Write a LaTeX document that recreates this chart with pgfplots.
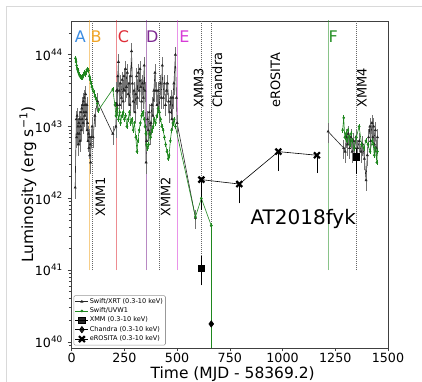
\documentclass[border=0pt]{standalone}
\usepackage{fontspec}
\setmainfont{DejaVu Sans}
\usepackage{pgfplots}
\pgfplotsset{compat=1.18}

\definecolor{cA}{RGB}{60,140,225}
\definecolor{cB}{RGB}{240,165,40}
\definecolor{cC}{RGB}{222,45,55}
\definecolor{cD}{RGB}{125,40,145}
\definecolor{cE}{RGB}{215,60,215}
\definecolor{cF}{RGB}{40,145,40}
\definecolor{uvw}{RGB}{30,135,30}

\pgfdeclareplotmark{Xfill}{%
  \pgfsetlinewidth{0.75\pgfplotmarksize}\pgfsetbuttcap
  \pgfpathmoveto{\pgfqpoint{-\pgfplotmarksize}{-\pgfplotmarksize}}%
  \pgfpathlineto{\pgfqpoint{\pgfplotmarksize}{\pgfplotmarksize}}%
  \pgfpathmoveto{\pgfqpoint{-\pgfplotmarksize}{\pgfplotmarksize}}%
  \pgfpathlineto{\pgfqpoint{\pgfplotmarksize}{-\pgfplotmarksize}}%
  \pgfusepathqstroke}

\pgfplotsset{
  xrt/.style={black!85, line width=0.45pt, mark=triangle*, mark size=0.9pt,
    error bars/y dir=both, error bars/y fixed relative=0.3, error bars/error mark=none,
    error bars/error bar style={black!55, line width=0.35pt}},
  uvwst/.style={uvw, line width=0.45pt, mark=*, mark size=0.75pt,
    error bars/y dir=both, error bars/y fixed relative=0.08, error bars/error mark=none,
    error bars/error bar style={uvw, line width=0.35pt}},
  vl/.style={line width=0.7pt, opacity=0.55, forget plot},
  vd/.style={black!60, densely dotted, line width=0.5pt, forget plot},
}

\begin{document}
\begin{tikzpicture}
\useasboundingbox (0,0) rectangle (316.5pt,286.5pt);
\draw[black!15, line width=0.6pt] (4.5pt,0) -- (4.5pt,282pt) -- (316.5pt,282pt);
\begin{axis}[
  at={(53.25pt,25.5pt)}, anchor=south west,
  scale only axis, width=237.75pt, height=245.25pt,
  ymode=log, xmin=-3, xmax=1500, ymin=8.24e39, ymax=2.95e44,
  xtick={0,250,500,750,1000,1250,1500},
  ytick={1e40,1e41,1e42,1e43,1e44},
  yticklabels={10\textsuperscript{40},10\textsuperscript{41},10\textsuperscript{42},10\textsuperscript{43},10\textsuperscript{44}},
  minor ytick={9e39,2e40,3e40,4e40,5e40,6e40,7e40,8e40,9e40,2e41,3e41,4e41,5e41,6e41,7e41,8e41,9e41,2e42,3e42,4e42,5e42,6e42,7e42,8e42,9e42,2e43,3e43,4e43,5e43,6e43,7e43,8e43,9e43,2e44},
  tick align=outside, tick pos=left,
  major tick length=2.5pt, minor tick length=1.5pt,
  axis line style={black!75},
  every tick/.style={black!75},
  /pgf/number format/assume math mode=true,
  /pgf/number format/1000 sep={},
  tick label style={font=\fontsize{9.5}{10}\selectfont},
  xticklabel style={inner sep=1pt},
  xlabel={Time (MJD - 58369.2)},
  ylabel={Luminosity (erg s\textsuperscript{−1})},
  label style={font=\fontsize{11.6}{12.5}\selectfont},
  xlabel style={at={(axis description cs:0.51,-0.0933)}, anchor=base, inner sep=0pt},
  ylabel style={at={(axis description cs:-0.136,0.5)}, anchor=center},
  unbounded coords=jump,
  legend style={at={(0.008,0.008)}, anchor=south west, font=\fontsize{4.9}{5.2}\selectfont,
    draw=black!40, rounded corners=1pt, inner sep=1pt, row sep=0pt,
    nodes={inner sep=0.9pt},
    fill=white, fill opacity=0.85, text opacity=1, draw opacity=1},
  legend cell align=left,
  legend image code/.code={\draw[mark repeat=2,mark phase=2,#1] plot coordinates {(0cm,0cm) (0.17cm,0cm) (0.34cm,0cm)};},
]
% vertical marker lines
\addplot[vl, cB] coordinates {(85,1e41) (85,1e45)};
\addplot[vl, cC] coordinates {(211,1e41) (211,1e45)};
\addplot[vl, cD] coordinates {(355,1e41) (355,1e45)};
\addplot[vl, cE] coordinates {(503,1e41) (503,1e45)};
\addplot[vl, cF] coordinates {(1216,1e41) (1216,1e45)};
\addplot[vd] coordinates {(96,1e41) (96,1e45)};
\addplot[vd] coordinates {(418,1e41) (418,1e45)};
\addplot[vd] coordinates {(615,1e41) (615,1e45)};
\addplot[vd] coordinates {(662,1e41) (662,1e45)};
\addplot[vd] coordinates {(1352,1e41) (1352,1e45)};

% Swift/XRT
\addplot[xrt] coordinates {
(17,1.41e42) (22,1.26e43) (24,7.08e42) (26,1.41e43) (28,7.94e42) (30,1.00e43) (32,5.62e42) (34,1.12e43)
(36,7.94e42) (38,1.26e43) (40,6.31e42) (42,1.00e43) (44,1.58e43) (46,8.91e42) (48,1.78e43) (50,1.26e43)
(52,2.00e43) (54,1.12e43) (56,2.24e43) (58,1.58e43) (60,2.51e43) (62,1.41e43) (64,2.00e43) (66,2.82e43)
(68,1.58e43) (70,1.26e43) (72,2.00e43) (74,8.91e42) (76,1.12e43) (78,6.31e42) (80,7.94e42) (82,5.01e42)
(84,7.08e42) (86,3.98e42) (88,5.62e42) (90,3.16e42) (93,7.08e42) (97,1.00e43) (102,7.08e42) (110,1.41e43)
(123,2.24e43) (195,7.94e42) (210,1.00e43) (213,3.16e43) (216,2.00e43) (219,5.01e43) (222,7.94e43) (225,3.16e43)
(228,2.00e43) (232,3.98e43) (236,2.51e43) (240,4.47e43) (244,2.24e43) (248,5.01e43) (252,3.16e43) (256,6.31e43)
(260,3.55e43) (264,5.62e43) (268,2.82e43) (272,3.98e43) (276,2.00e43) (280,5.01e43) (284,1.12e44) (288,3.98e43)
(292,2.24e43) (296,3.16e43) (300,1.58e43) (304,2.82e43) (308,5.01e43) (312,2.51e43) (316,5.62e43) (320,3.16e43)
(324,6.31e43) (328,3.55e43) (332,2.24e43) (336,3.98e43) (340,2.51e43) (344,7.08e43) (347,3.16e43) (350,1.00e43)
(353,3.16e42) (356,6.31e42) (360,1.26e43) (364,8.91e42) (368,1.58e43) (372,7.94e42) (376,1.12e43) (380,2.00e43)
(385,1.41e43) (390,3.16e43) (395,5.62e43) (400,3.16e43) (405,2.00e43) (410,3.16e43) (415,1.58e43) (420,3.98e43)
(425,2.51e43) (430,7.08e43) (435,2.51e43) (440,3.98e43) (445,2.00e43) (450,3.16e43) (455,3.98e43) (460,2.24e43)
(465,1.58e43) (470,2.51e43) (475,1.26e43) (480,2.51e43) (485,3.98e43) (492,1.00e44) (497,2.51e43) (500,1.12e43)
(587,5.37e41)
};
\addlegendentry{Swift/XRT (0.3-10 keV)}

% Swift/UVW1
\addplot[uvwst] coordinates {
(18,8.91e43) (21,7.94e43) (24,7.08e43) (27,6.31e43) (30,6.03e43) (33,5.62e43) (36,5.25e43) (40,5.01e43)
(44,4.79e43) (48,5.01e43) (52,4.79e43) (56,5.25e43) (60,5.62e43) (64,5.25e43) (68,5.75e43) (72,6.17e43)
(76,6.31e43) (80,6.03e43) (84,5.01e43) (88,4.47e43) (92,3.98e43) (96,3.55e43) (100,3.31e43) (105,3.02e43)
(110,2.63e43) (116,2.40e43) (122,2.09e43) (128,1.70e43) (195,3.31e43) (205,2.00e43) (210,1.41e43) (216,1.78e43)
(222,1.26e43) (228,1.58e43) (232,1.12e43) (238,1.41e43) (244,1.58e43) (250,1.26e43) (256,1.41e43) (262,1.00e43)
(268,1.26e43) (274,1.58e43) (280,1.12e43) (286,1.26e43) (292,8.91e42) (298,1.12e43) (304,7.08e42) (310,4.47e42)
(314,6.31e42) (320,8.91e42) (326,1.12e43) (332,1.41e43) (338,1.58e43) (344,1.26e43) (348,1.00e43) (352,7.94e42)
(356,5.62e42) (360,5.01e42) (365,5.62e42) (370,7.94e42) (375,7.08e42) (380,8.91e42) (386,1.00e43) (392,1.26e43)
(398,1.12e43) (404,1.41e43) (410,1.78e43) (416,1.58e43) (422,1.26e43) (428,1.00e43) (434,8.91e42) (440,7.08e42)
(446,5.62e42) (452,4.47e42) (458,3.55e42) (462,3.98e42) (468,6.31e42) (474,8.91e42) (480,1.12e43) (486,1.26e43)
(492,1.00e43) (587,5.50e41) (615,1.00e42) (662,4.17e41)
};
\addlegendentry{Swift/UVW1}

% XMM
\addplot[black, line width=0.45pt, mark=square*, mark size=2.4pt,
  error bars/y dir=both, error bars/y fixed relative=0.4, error bars/error mark=-,
  error bars/error mark options={mark size=1pt}, error bars/error bar style={line width=0.5pt}]
  coordinates {(615,1.07e41) (1000,nan) (1349,3.80e42)};
\addlegendentry{XMM (0.3-10 keV)}

% Chandra
\addplot[black, line width=0.45pt, mark=diamond*, mark size=2.4pt,
  error bars/y dir=both, error bars/y fixed relative=0.45, error bars/error mark=-,
  error bars/error mark options={mark size=1pt}, error bars/error bar style={line width=0.5pt}]
  coordinates {(662,1.78e40)};
\addlegendentry{Chandra (0.3-10 keV)}

% eROSITA
\addplot[black, line width=0.45pt, mark=Xfill, mark size=2.2pt,
  error bars/y dir=minus, error bars/y explicit relative, error bars/error mark=-,
  error bars/error mark options={mark size=1pt}, error bars/error bar style={line width=0.5pt}]
  coordinates {(615,1.82e42) -= (0,0.6) (795,1.58e42) -= (0,0.44) (980,4.47e42) -= (0,0.44) (1163,3.98e42) -= (0,0.41)};
\addlegendentry{eROSITA (0.3-10 keV)}

% later segments
\addplot[xrt, forget plot] coordinates {
(1216,8.51e42) (1290,5.01e42) (1297,4.47e42) (1302,7.08e42) (1308,5.62e42) (1312,7.94e42) (1318,5.01e42) (1324,7.08e42)
(1330,4.47e42) (1336,6.31e42) (1342,5.01e42) (1348,7.08e42) (1356,5.01e42) (1364,6.31e42) (1372,4.47e42) (1380,5.62e42)
(1388,3.55e42) (1396,1.78e42) (1402,3.98e42) (1408,7.08e42) (1414,1.00e43) (1418,6.31e42) (1424,1.12e43) (1428,7.08e42)
(1432,1.00e43) (1436,5.62e42) (1440,8.91e42) (1445,5.01e42) (1450,7.08e42)
};
\addplot[uvwst, forget plot] coordinates {
(1285,8.91e42) (1290,1.32e43) (1295,7.08e42) (1300,7.94e42) (1305,6.31e42) (1310,8.91e42) (1315,7.08e42) (1320,5.62e42)
(1325,7.94e42) (1330,6.31e42) (1340,5.01e42) (1350,7.08e42) (1363,1.00e43) (1375,5.62e42) (1385,5.01e42) (1395,6.31e42)
(1405,5.62e42) (1415,4.47e42) (1425,6.31e42) (1430,5.62e42) (1435,3.98e42) (1440,5.01e42) (1447,3.16e42) (1450,4.47e42)
};
\addplot[uvw, forget plot, only marks, mark=*, mark size=0.75pt,
  error bars/y dir=minus, error bars/y fixed relative=0.999, error bars/error mark=none,
  error bars/error bar style={uvw, line width=0.5pt}] coordinates {(662,4.17e41)};

% period letters
\node[cA, font=\fontsize{12}{12}\selectfont] at (axis cs:41,1.78e44) {A};
\node[cB, font=\fontsize{12}{12}\selectfont] at (axis cs:116,1.78e44) {B};
\node[cC, font=\fontsize{12}{12}\selectfont] at (axis cs:246,1.78e44) {C};
\node[cD, font=\fontsize{12}{12}\selectfont] at (axis cs:382,1.78e44) {D};
\node[cE, font=\fontsize{12}{12}\selectfont] at (axis cs:535,1.78e44) {E};
\node[cF, font=\fontsize{12}{12}\selectfont] at (axis cs:1240,1.78e44) {F};

% observation labels
\node[rotate=90, anchor=west, inner sep=0pt, font=\fontsize{9.7}{10}\selectfont] at (axis cs:136,5.5e41) {XMM1};
\node[rotate=90, anchor=west, inner sep=0pt, font=\fontsize{9.7}{10}\selectfont] at (axis cs:445,5.5e41) {XMM2};
\node[rotate=90, anchor=west, inner sep=0pt, font=\fontsize{9.7}{10}\selectfont] at (axis cs:602,1.82e43) {XMM3};
\node[rotate=90, anchor=west, inner sep=0pt, font=\fontsize{9.7}{10}\selectfont] at (axis cs:691,1.82e43) {Chandra};
\node[rotate=90, anchor=west, inner sep=0pt, font=\fontsize{9.7}{10}\selectfont] at (axis cs:966,1.82e43) {eROSITA};
\node[rotate=90, anchor=west, inner sep=0pt, font=\fontsize{9.7}{10}\selectfont] at (axis cs:1376,1.82e43) {XMM4};

\node[font=\fontsize{15}{15}\selectfont] at (axis cs:1098,5.1e41) {AT2018fyk};
\end{axis}
\end{tikzpicture}
\end{document}
